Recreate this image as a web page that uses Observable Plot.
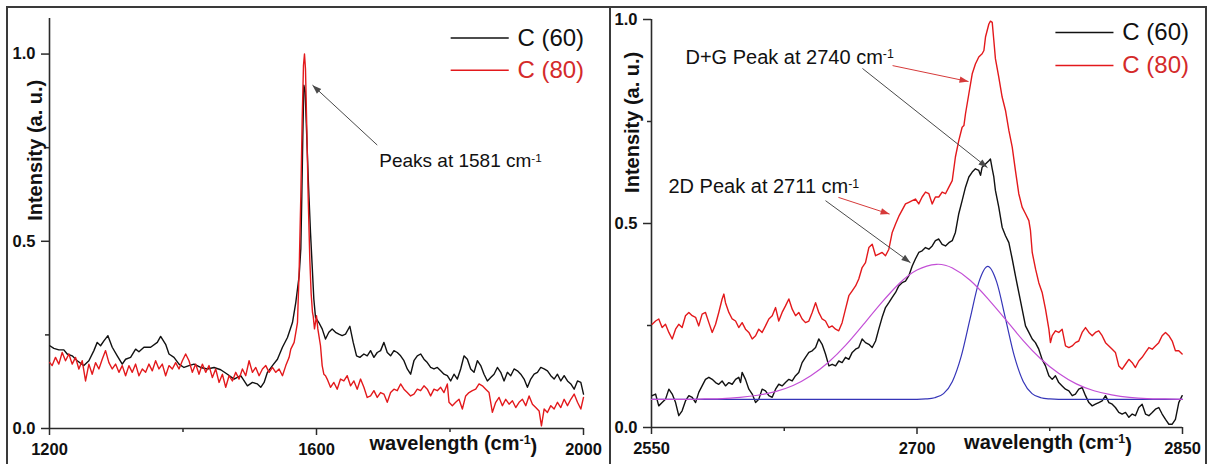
<!DOCTYPE html>
<html>
<head>
<meta charset="utf-8">
<script src="https://cdn.jsdelivr.net/npm/d3@7"></script>
<script src="https://cdn.jsdelivr.net/npm/@observablehq/plot@0.6"></script>
<style>
  body { margin: 0; background: #fff; font-family: Arial, "Liberation Sans", sans-serif; }
  #wrap { position: relative; width: 1208px; height: 464px; overflow: hidden; background: #fff; }
  .panel { position: absolute; top: 0; }
  .frame { position: absolute; box-sizing: border-box; border: 2px solid #3a3a3a; border-bottom: none; pointer-events: none; }
</style>
</head>
<body>
<div id="wrap">
  <div id="left" class="panel" style="left:0px"></div>
  <div id="right" class="panel" style="left:609px"></div>
  <div class="frame" style="left:6px; top:6px; width:605px; height:470px"></div>
  <div class="frame" style="left:609px; top:6px; width:598px; height:470px"></div>
</div>
<script>
// ---- Raman spectra: [wavenumber (cm-1), normalised intensity] ----

// G band region, sample C (60)
const gBandC60 = [
  [1200.5,0.221],[1206.5,0.214],[1214,0.210],[1221.5,0.210],[1226.5,0.199],[1234,0.194],[1241.5,0.181],
  [1251.5,0.168],[1259,0.181],[1266.5,0.208],[1271.5,0.230],[1276.5,0.221],[1281.5,0.234],[1287.5,0.248],
  [1294,0.217],[1301.5,0.194],[1309,0.172],[1314,0.185],[1321.5,0.190],[1329,0.212],[1334,0.205],
  [1341.5,0.217],[1351.5,0.217],[1361.5,0.230],[1366.5,0.246],[1374,0.225],[1379,0.199],[1386.5,0.190],
  [1394,0.172],[1401.5,0.163],[1409,0.168],[1416.5,0.172],[1426.5,0.163],[1436.5,0.159],[1446.5,0.163],
  [1456.5,0.157],[1466.5,0.145],[1476.5,0.132],[1486.5,0.141],[1496.5,0.114],[1504,0.123],[1511.5,0.119],
  [1516.5,0.110],[1521.5,0.123],[1526.5,0.150],[1534,0.168],[1541.5,0.185],[1549,0.217],[1556.5,0.243],
  [1564,0.283],[1569,0.337],[1574,0.408],[1576.5,0.480],[1578,0.620],[1579.5,0.780],[1581,0.917],
  [1583,0.900],[1585,0.800],[1588,0.650],[1591,0.524],[1593.5,0.435],[1596,0.346],[1598.5,0.297],
  [1603.5,0.283],[1608.5,0.266],[1613.5,0.239],[1618.5,0.257],[1623.5,0.266],[1628.5,0.257],[1633.5,0.252],
  [1638.5,0.248],[1643.5,0.252],[1650,0.273],[1655,0.230],[1660,0.194],[1665,0.190],[1671,0.199],
  [1676,0.194],[1681,0.208],[1686,0.190],[1691,0.203],[1696,0.208],[1701,0.230],[1706,0.203],[1711,0.194],
  [1716,0.208],[1721,0.203],[1726,0.194],[1731,0.181],[1736,0.159],[1741,0.145],[1746,0.181],[1751,0.194],
  [1756,0.199],[1761,0.185],[1766,0.176],[1771,0.163],[1776,0.159],[1781,0.163],[1786,0.154],[1791,0.145],
  [1796,0.141],[1801,0.127],[1806,0.145],[1811,0.132],[1816,0.159],[1821,0.194],[1826,0.185],[1831,0.159],
  [1836,0.150],[1841,0.181],[1846,0.168],[1851,0.145],[1856,0.127],[1861,0.136],[1866,0.145],[1871,0.163],
  [1876,0.150],[1881,0.127],[1886,0.150],[1891,0.141],[1896,0.159],[1901,0.154],[1906,0.145],[1911,0.132],
  [1916,0.110],[1921,0.132],[1926,0.145],[1931,0.150],[1936,0.163],[1941,0.159],[1946,0.154],[1951,0.141],
  [1956,0.132],[1961,0.145],[1966,0.127],[1971,0.141],[1976,0.127],[1981,0.119],[1986,0.105],[1991,0.127],
  [1996,0.123],[2000,0.092]
];

// G band region, sample C (80)
const gBandC80 = [
  [1200.5,0.176],[1204,0.168],[1209,0.190],[1214,0.172],[1219,0.203],[1224,0.181],[1229,0.199],[1234,0.172],
  [1239,0.190],[1244,0.159],[1249,0.181],[1254,0.127],[1259,0.172],[1264,0.145],[1269,0.176],[1274,0.159],
  [1279,0.185],[1284,0.208],[1289,0.176],[1294,0.159],[1299,0.172],[1304,0.150],[1309,0.168],[1314,0.141],
  [1319,0.168],[1324,0.150],[1329,0.172],[1334,0.141],[1339,0.159],[1344,0.150],[1349,0.172],[1354,0.154],
  [1359,0.181],[1364,0.159],[1369,0.172],[1374,0.141],[1379,0.168],[1384,0.159],[1389,0.176],[1394,0.159],
  [1399,0.181],[1404,0.199],[1409,0.181],[1414,0.150],[1419,0.172],[1424,0.145],[1429,0.172],[1434,0.150],
  [1439,0.168],[1444,0.136],[1449,0.159],[1454,0.123],[1459,0.145],[1464,0.110],[1469,0.141],[1474,0.127],
  [1479,0.150],[1484,0.132],[1489,0.159],[1494,0.141],[1499,0.181],[1504,0.150],[1509,0.163],[1514,0.141],
  [1519,0.159],[1524,0.168],[1529,0.150],[1534,0.163],[1539,0.150],[1544,0.159],[1549,0.141],[1554,0.168],
  [1559,0.190],[1561.5,0.212],[1566.5,0.230],[1571.5,0.283],[1574,0.420],[1576.5,0.620],[1578.5,0.820],
  [1580.5,0.970],[1582,1.000],[1583.5,0.960],[1585.5,0.800],[1587.5,0.620],[1590,0.450],[1592,0.360],
  [1594,0.310],[1595,0.301],[1597,0.266],[1600,0.301],[1602,0.266],[1606,0.221],[1608.5,0.168],[1611,0.145],
  [1613.5,0.141],[1616,0.132],[1621,0.110],[1626,0.123],[1631,0.105],[1636,0.132],[1641,0.127],[1646,0.141],
  [1651,0.114],[1656,0.127],[1661,0.105],[1666,0.132],[1671,0.110],[1676,0.083],[1681,0.087],[1686,0.101],
  [1691,0.083],[1696,0.096],[1701,0.092],[1706,0.070],[1711,0.096],[1716,0.105],[1721,0.101],[1726,0.119],
  [1731,0.105],[1736,0.096],[1741,0.087],[1746,0.092],[1751,0.105],[1756,0.101],[1761,0.114],[1766,0.105],
  [1771,0.087],[1776,0.105],[1781,0.101],[1786,0.110],[1791,0.096],[1796,0.119],[1798.5,0.070],[1803.5,0.061],
  [1808.5,0.070],[1813.5,0.078],[1818.5,0.052],[1823.5,0.087],[1828.5,0.096],[1833.5,0.101],[1838.5,0.105],
  [1843.5,0.119],[1848.5,0.114],[1853.5,0.105],[1858.5,0.096],[1863.5,0.043],[1868.5,0.070],[1873.5,0.083],
  [1878.5,0.061],[1883.5,0.078],[1888.5,0.065],[1893.5,0.074],[1898.5,0.056],[1903.5,0.070],[1908.5,0.078],
  [1913.5,0.061],[1918.5,0.087],[1923.5,0.065],[1928.5,0.056],[1933.5,0.047],[1937,0.007],[1941,0.052],
  [1946,0.043],[1951,0.061],[1956,0.052],[1961,0.070],[1966,0.056],[1971,0.078],[1976,0.061],[1981,0.078],
  [1986,0.092],[1991,0.070],[1996,0.052],[2000,0.083]
];

// 2D band region, sample C (60)
const dBandC60 = [
  [2550.4,0.078],[2552.3,0.082],[2554.1,0.053],[2556,0.061],[2557.9,0.069],[2559.8,0.094],[2561.7,0.082],
  [2563.6,0.061],[2565.4,0.029],[2567.3,0.041],[2569.2,0.065],[2571.1,0.078],[2573,0.074],[2574.9,0.061],
  [2576.7,0.086],[2578.6,0.102],[2580.5,0.118],[2582.4,0.123],[2584.3,0.118],[2586.2,0.110],[2588,0.106],
  [2589.9,0.114],[2591.8,0.102],[2593.7,0.110],[2595.6,0.106],[2597.5,0.118],[2599.3,0.123],[2600.3,0.110],
  [2601.2,0.135],[2603.1,0.118],[2605,0.094],[2606.9,0.082],[2608.8,0.061],[2610.6,0.069],[2612.5,0.094],
  [2614.4,0.090],[2616.3,0.078],[2618.2,0.074],[2620.1,0.094],[2621.9,0.106],[2623.8,0.102],[2625.7,0.110],
  [2627.6,0.118],[2629.5,0.114],[2631.4,0.127],[2633.2,0.135],[2635.1,0.159],[2637,0.172],[2638.9,0.184],
  [2640.8,0.188],[2642.7,0.196],[2644.5,0.217],[2646.4,0.204],[2648.3,0.180],[2650.2,0.151],[2652.1,0.155],
  [2654,0.151],[2655.8,0.163],[2657.7,0.159],[2659.6,0.172],[2661.5,0.167],[2663.4,0.184],[2665.3,0.192],
  [2667.1,0.196],[2669,0.217],[2670.9,0.208],[2672.8,0.204],[2674.7,0.196],[2676.6,0.212],[2678.4,0.241],
  [2680.3,0.270],[2682.2,0.294],[2684.1,0.306],[2686,0.319],[2687.9,0.331],[2689.7,0.347],[2691.6,0.355],
  [2693.5,0.359],[2695.4,0.372],[2697.3,0.396],[2699.1,0.413],[2701,0.429],[2702.9,0.433],[2704.8,0.441],
  [2706.7,0.437],[2708.6,0.445],[2710.4,0.458],[2712.3,0.462],[2714.2,0.449],[2716.1,0.445],[2718,0.453],
  [2719.9,0.458],[2721.7,0.478],[2723.6,0.524],[2725.5,0.556],[2727.4,0.589],[2729.3,0.614],[2731.2,0.626],
  [2733,0.634],[2734.9,0.630],[2735.9,0.618],[2736.8,0.638],[2738.7,0.646],[2740.6,0.654],[2741.5,0.658],
  [2742.5,0.634],[2743.4,0.614],[2744.3,0.581],[2746.2,0.540],[2748.1,0.491],[2750,0.470],[2751.9,0.453],
  [2753.8,0.413],[2755.6,0.372],[2757.5,0.331],[2759.4,0.290],[2761.3,0.249],[2763.2,0.233],[2765.1,0.217],
  [2766.9,0.208],[2768.8,0.192],[2770.7,0.167],[2772.6,0.151],[2774.5,0.127],[2776.4,0.118],[2778.2,0.127],
  [2780.1,0.110],[2782,0.102],[2783.9,0.094],[2785.8,0.090],[2787.7,0.078],[2789.5,0.082],[2791.4,0.094],
  [2793.3,0.098],[2795.2,0.078],[2797.1,0.061],[2799,0.053],[2800.8,0.057],[2802.7,0.061],[2804.6,0.065],
  [2806.5,0.078],[2808.4,0.061],[2810.3,0.057],[2812.1,0.049],[2814,0.037],[2815.9,0.033],[2817.8,0.037],
  [2819.7,0.025],[2821.6,0.033],[2823.4,0.029],[2825.3,0.049],[2827.2,0.057],[2829.1,0.033],[2831,0.029],
  [2832.9,0.037],[2834.7,0.045],[2836.6,0.049],[2838.5,0.033],[2840.4,0.020],[2842.3,0.008],[2844.2,0.008],
  [2846,0.020],[2847.9,0.061],[2849.8,0.078]
];

// 2D band region, sample C (80)
const dBandC80 = [
  [2550.4,0.253],[2552.3,0.261],[2554.1,0.266],[2556,0.245],[2557.9,0.253],[2559.8,0.233],[2561.7,0.217],
  [2563.6,0.241],[2565.4,0.253],[2567.3,0.245],[2569.2,0.274],[2571.1,0.282],[2573,0.274],[2574.9,0.270],
  [2576.7,0.249],[2578.6,0.278],[2580.5,0.282],[2582.4,0.257],[2584.3,0.233],[2586.2,0.253],[2588,0.282],
  [2589.9,0.315],[2590.9,0.327],[2591.8,0.306],[2593.7,0.282],[2595.6,0.266],[2597.5,0.261],[2599.3,0.245],
  [2601.2,0.257],[2603.1,0.241],[2605,0.233],[2606.9,0.217],[2608.8,0.225],[2610.6,0.241],[2612.5,0.233],
  [2614.4,0.249],[2616.3,0.266],[2618.2,0.274],[2620.1,0.294],[2621.9,0.261],[2623.8,0.282],[2625.7,0.298],
  [2627.6,0.315],[2629.5,0.290],[2631.4,0.274],[2633.2,0.282],[2635.1,0.266],[2637,0.257],[2638.9,0.261],
  [2640.8,0.282],[2642.7,0.306],[2644.5,0.282],[2646.4,0.266],[2648.3,0.261],[2650.2,0.245],[2652.1,0.249],
  [2654,0.241],[2655.8,0.237],[2657.7,0.257],[2659.6,0.290],[2661.5,0.323],[2663.4,0.335],[2665.3,0.347],
  [2667.1,0.364],[2669,0.392],[2670.9,0.404],[2672.8,0.441],[2674.7,0.449],[2676.6,0.421],[2678.4,0.425],
  [2680.3,0.429],[2682.2,0.421],[2684.1,0.437],[2686,0.478],[2688,0.500],[2690,0.520],[2693.5,0.548],
  [2695.4,0.552],[2697.3,0.556],[2699.1,0.560],[2701,0.548],[2702.9,0.565],[2704.8,0.577],[2706.7,0.573],
  [2708.6,0.548],[2710.4,0.565],[2712.3,0.565],[2714.2,0.577],[2716.1,0.573],[2718,0.589],[2719.9,0.605],
  [2721.7,0.663],[2723.6,0.703],[2725.5,0.736],[2726.5,0.740],[2727.4,0.769],[2729.3,0.818],[2731.2,0.867],
  [2733,0.891],[2734.9,0.908],[2736.8,0.916],[2737.8,0.924],[2738.7,0.957],[2740.6,0.989],[2741.5,0.996],
  [2742.5,0.993],[2743.4,0.949],[2744.3,0.904],[2746.2,0.859],[2748.1,0.810],[2750,0.777],[2751.9,0.728],
  [2753.8,0.687],[2755.6,0.630],[2757.5,0.573],[2759.4,0.540],[2761.3,0.524],[2763.2,0.507],[2764.1,0.483],
  [2765.1,0.429],[2767,0.388],[2768.8,0.355],[2770.7,0.331],[2772.6,0.290],[2774.5,0.241],[2775.4,0.208],
  [2776.4,0.225],[2778.2,0.237],[2780.1,0.233],[2782,0.241],[2783.9,0.200],[2785.8,0.196],[2787.7,0.200],
  [2789.5,0.208],[2791.4,0.212],[2793.3,0.233],[2795.2,0.245],[2797.1,0.233],[2799,0.225],[2800.8,0.233],
  [2802.7,0.237],[2804.6,0.225],[2806.5,0.208],[2808.4,0.200],[2810.3,0.192],[2812.1,0.184],[2814,0.151],
  [2815.9,0.143],[2817.8,0.155],[2819.7,0.167],[2821.6,0.159],[2823.4,0.147],[2825.3,0.163],[2827.2,0.172],
  [2829.1,0.184],[2831,0.196],[2832.9,0.192],[2834.7,0.200],[2836.6,0.208],[2838.5,0.225],[2840.4,0.233],
  [2842.3,0.225],[2844.2,0.212],[2846,0.188],[2847.9,0.188],[2849.8,0.180]
];

// Fitted components of the C (60) 2D band
const fit2D = [
  [2550,0.069],[2570,0.069],[2580,0.070],[2590,0.071],[2600,0.074],[2610,0.079],[2620,0.088],[2630,0.103],
  [2640,0.127],[2650,0.160],[2660,0.203],[2670,0.254],[2680,0.306],[2690,0.353],[2700,0.386],[2711,0.400],
  [2720,0.391],[2730,0.361],[2740,0.316],[2750,0.265],[2760,0.213],[2770,0.168],[2780,0.133],[2790,0.107],
  [2800,0.090],[2810,0.080],[2820,0.074],[2830,0.071],[2840,0.070],[2850,0.069]
];
const fitDG = [
  [2550,0.069],[2690,0.069],[2700,0.069],[2705,0.070],[2710,0.073],[2715,0.083],[2720,0.113],[2725,0.175],
  [2730,0.267],[2735,0.357],[2740,0.395],[2745,0.357],[2750,0.267],[2755,0.175],[2760,0.113],[2765,0.083],
  [2770,0.073],[2775,0.070],[2780,0.069],[2790,0.069],[2850,0.069]
];

// Axis ticks
const gBandTicks = [1200, 1400, 1600, 1800, 2000];
const gBandTickLabels = [1200, 1600, 2000];
const dBandTicks = [2550, 2625, 2700, 2775, 2850];
const dBandTickLabels = [2550, 2700, 2850];
const intensityTicks = [0, 0.25, 0.5, 0.75, 1.0];
const intensityTickLabels = [0, 0.5, 1.0];

// Legend entries
const seriesNames = ["C (60)", "C (80)"];

// ---- styling ----
const FONT = 'Arial, "Liberation Sans", sans-serif';
const AXIS = "#2a2a2a";
const BLACK = "#111111";
const RED = "#e3191c";
const RED_TEXT = "#d42a2a";
const ARROW_DARK = "#4a4a4a";
const ARROW_RED = "#d63a3a";
const MAGENTA = "#c34fd6";
const BLUE = "#3535b8";
const SUP = "\u207B\u00B9";   // written as a raised "-1" after rendering
const seriesColors = [BLACK, RED];
const legendTextColors = ["#111", RED_TEXT];

function frameAxes(xTicks, xLabels, x0) {
  const majX = xTicks.filter(t => xLabels.includes(t));
  const minX = xTicks.filter(t => !xLabels.includes(t));
  const majY = intensityTicks.filter(t => intensityTickLabels.includes(t));
  const minY = intensityTicks.filter(t => !intensityTickLabels.includes(t));
  const base = {stroke: AXIS, fill: "#111", strokeWidth: 1.5, fontSize: 16.5, fontWeight: "bold", fontFamily: FONT, label: null};
  return [
    Plot.axisX(majX, {...base, tickSize: 7, tickPadding: 8, tickFormat: d => String(d)}),
    Plot.axisX(minX, {...base, tickSize: 4, tickFormat: () => ""}),
    Plot.axisY(majY, {...base, tickSize: 8, tickPadding: 6, tickFormat: d3.format(".1f")}),
    Plot.axisY(minY, {...base, tickSize: 4, tickFormat: () => ""}),
    Plot.ruleY([0], {stroke: AXIS, strokeWidth: 1.6}),
    Plot.ruleX([x0], {stroke: AXIS, strokeWidth: 1.6})
  ];
}

function legend(xStart, xEnd, xText, yRows) {
  const rows = seriesNames.map((name, i) => ({name, y: yRows[i], stroke: seriesColors[i], fill: legendTextColors[i]}));
  return [
    Plot.link(rows, {x1: () => xStart, x2: () => xEnd, y1: "y", y2: "y", stroke: "stroke", strokeWidth: 1.5}),
    Plot.text(rows, {x: () => xText, y: "y", text: "name", fill: "fill", textAnchor: "start", lineAnchor: "middle", fontSize: 24, fontFamily: FONT})
  ];
}

function titles(xTitleAt, yTitleAt, yTitleDx) {
  return [
    Plot.text([`wavelength (cm${SUP})`], {x: () => xTitleAt, frameAnchor: "bottom", dy: 21, lineAnchor: "bottom",
      textAnchor: "middle", fontSize: 20, fontWeight: "bold", fontFamily: FONT, fill: "#111"}),
    Plot.text(["Intensity (a. u.)"], {y: () => yTitleAt, frameAnchor: "left", dx: yTitleDx, rotate: -90,
      textAnchor: "middle", lineAnchor: "middle", fontSize: 20, fontWeight: "bold", fontFamily: FONT, fill: "#111"})
  ];
}

// Annotation arrows; the group is tagged so its heads can be attached afterwards
function arrows(list, tone, color) {
  return Plot.link(list, {x1: "x1", y1: "y1", x2: "x2", y2: "y2", stroke: color, strokeWidth: 1,
    ariaDescription: `arrow-${tone}`});
}

// Filled triangular heads on the annotation arrows
function addHeads(svg, prefix) {
  const root = d3.select(svg);
  const defs = root.insert("defs", ":first-child");
  for (const [tone, color] of [["dark", ARROW_DARK], ["red", ARROW_RED]]) {
    const id = `${prefix}-${tone}`;
    defs.append("marker")
      .attr("id", id)
      .attr("viewBox", "0 -5 10 10")
      .attr("refX", 10).attr("refY", 0)
      .attr("markerUnits", "userSpaceOnUse")
      .attr("markerWidth", 10).attr("markerHeight", 9)
      .attr("orient", "auto")
      .append("path").attr("d", "M0,-3.6L10,0L0,3.6Z").attr("fill", color);
    root.selectAll(`g[aria-description="arrow-${tone}"] path`).attr("marker-end", `url(#${id})`);
  }
}

// Turn "cm⁻¹" into cm with a small raised "-1"
function raiseUnits(svg) {
  d3.select(svg).selectAll("text").each(function () {
    const full = this.textContent;
    if (!full.includes(SUP)) return;
    const [before, after] = full.split(SUP);
    const t = d3.select(this);
    t.text(null);
    t.append("tspan").text(before);
    t.append("tspan").attr("dy", "-0.42em").attr("font-size", "0.62em").text("-1");
    if (after) t.append("tspan").attr("dy", "0.42em").text(after);
  });
}

const style = {background: "transparent", overflow: "visible", fontFamily: FONT};
const line = (data, color) => Plot.line(data, {x: d => d[0], y: d => d[1], stroke: color, strokeWidth: 1.4, strokeLinejoin: "round"});

// ---- left panel: G band ----
const gArrowsDark = [{x1: 1691, y1: 0.757, x2: 1594, y2: 0.917}];
const left = Plot.plot({
  width: 609, height: 464,
  marginLeft: 49, marginRight: 26, marginTop: 18, marginBottom: 36,
  x: {domain: [1200, 2000]},
  y: {domain: [0, 1.095]},
  style,
  marks: [
    ...frameAxes(gBandTicks, gBandTickLabels, 1200),
    line(gBandC60, BLACK),
    line(gBandC80, RED),
    arrows(gArrowsDark, "dark", ARROW_DARK),
    Plot.text([`Peaks at 1581 cm${SUP}`], {x: () => 1694, y: () => 0.698, textAnchor: "start", lineAnchor: "bottom",
      fontSize: 19, fontFamily: FONT, fill: "#111"}),
    ...legend(1801, 1888, 1901, [1.043, 0.957]),
    ...titles(1805, 0.743, -14)
  ]
});
addHeads(left, "gb");
raiseUnits(left);
document.getElementById("left").append(left);

// ---- right panel: 2D band ----
const dArrowsDark = [
  {x1: 2669.2, y1: 0.880, x2: 2739.8, y2: 0.637},
  {x1: 2648.3, y1: 0.556, x2: 2696.3, y2: 0.404}
];
const dArrowsRed = [
  {x1: 2686.2, y1: 0.887, x2: 2729.1, y2: 0.848},
  {x1: 2655.6, y1: 0.564, x2: 2684.5, y2: 0.523}
];
const right = Plot.plot({
  width: 599, height: 464,
  marginLeft: 42, marginRight: 26, marginTop: 19, marginBottom: 37,
  x: {domain: [2550, 2850]},
  y: {domain: [0, 1.0]},
  style,
  marks: [
    ...frameAxes(dBandTicks, dBandTickLabels, 2550),
    line(dBandC60, BLACK),
    line(dBandC80, RED),
    Plot.line(fitDG, {x: d => d[0], y: d => d[1], stroke: BLUE, strokeWidth: 1.2, curve: "monotone-x"}),
    Plot.line(fit2D, {x: d => d[0], y: d => d[1], stroke: MAGENTA, strokeWidth: 1.2, curve: "natural"}),
    arrows(dArrowsDark, "dark", ARROW_DARK),
    arrows(dArrowsRed, "red", ARROW_RED),
    Plot.text([`D+G Peak at 2740 cm${SUP}`], {x: () => 2569.2, y: () => 0.892, textAnchor: "start", lineAnchor: "bottom",
      fontSize: 20, fontFamily: FONT, fill: "#111"}),
    Plot.text([`2D Peak at 2711 cm${SUP}`], {x: () => 2559.6, y: () => 0.574, textAnchor: "start", lineAnchor: "bottom",
      fontSize: 20, fontFamily: FONT, fill: "#111"}),
    ...legend(2778.2, 2811, 2816, [0.968, 0.887]),
    ...titles(2774, 0.748, -19)
  ]
});
addHeads(right, "db");
raiseUnits(right);
document.getElementById("right").append(right);
</script>
</body>
</html>
